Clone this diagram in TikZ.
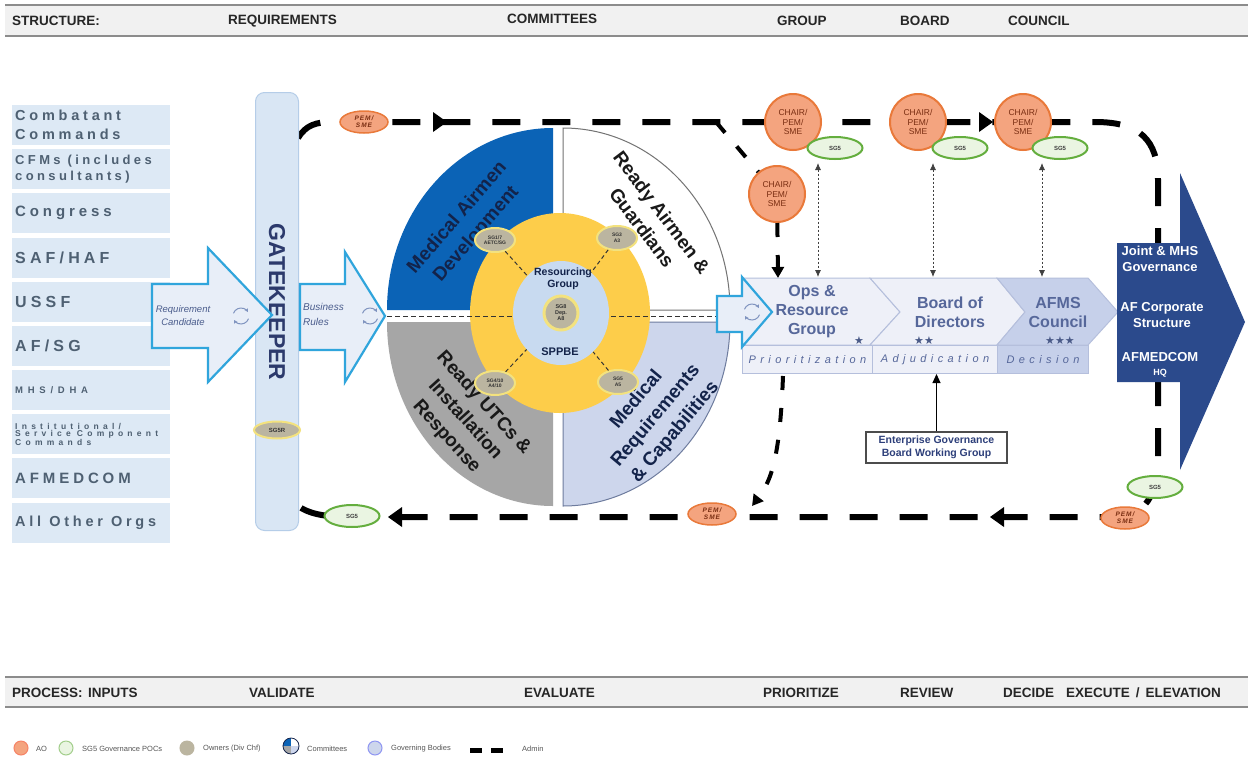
\documentclass[tikz,border=0pt]{standalone}
\usepackage{fontspec}
\setmainfont{Liberation Sans}
\newfontfamily\orgfont[LetterSpace=26]{Liberation Sans}
\newfontfamily\orgwide[LetterSpace=50]{Liberation Sans}
\newfontfamily\lblfont[LetterSpace=40]{Liberation Sans}
\newfontfamily\pemfont[LetterSpace=15]{Liberation Sans}
\newfontfamily\djv{DejaVu Sans}
\usetikzlibrary{arrows.meta,shapes.geometric,calc}
\definecolor{cBarFill}{HTML}{F1F1F1}
\definecolor{cBarLine}{HTML}{8C8C8C}
\definecolor{cOrgFill}{HTML}{DDE9F5}
\definecolor{cOrgText}{HTML}{4E6072}
\definecolor{cGkFill}{HTML}{D9E6F4}
\definecolor{cGkEdge}{HTML}{B5CDE8}
\definecolor{cGkText}{HTML}{2C3A6C}
\definecolor{cArrFill}{HTML}{E8EEF8}
\definecolor{cArrEdge}{HTML}{30A5DC}
\definecolor{cArrText}{HTML}{4A5C8C}
\definecolor{cCyc}{HTML}{7F93BF}
\definecolor{cQBlue}{HTML}{0B63B6}
\definecolor{cQGray}{HTML}{A6A6A6}
\definecolor{cQLight}{HTML}{CDD6EC}
\definecolor{cQEdge}{HTML}{6E7C9E}
\definecolor{cNavy}{HTML}{13234A}
\definecolor{cRing}{HTML}{FDCD4A}
\definecolor{cInner}{HTML}{C8DAF0}
\definecolor{cKhaki}{HTML}{BBB5A0}
\definecolor{cGlow}{HTML}{F3E27E}
\definecolor{cAoFill}{HTML}{F4A47F}
\definecolor{cAoEdge}{HTML}{E9793A}
\definecolor{cAoText}{HTML}{7A2E12}
\definecolor{cSgFill}{HTML}{EAF5E2}
\definecolor{cSgEdge}{HTML}{64AE3E}
\definecolor{cChFill}{HTML}{EEF0F8}
\definecolor{cChEdge}{HTML}{B5BFDC}
\definecolor{cChDark}{HTML}{C6D0EA}
\definecolor{cChText}{HTML}{56679A}
\definecolor{cStar}{HTML}{4A5A88}
\definecolor{cBigNavy}{HTML}{2B4A8C}
\definecolor{cEgText}{HTML}{2D3F7A}
\definecolor{cLegText}{HTML}{555555}
\begin{document}
\begin{tikzpicture}[x=1pt,y=-1pt,
  hdr/.style={font=\bfseries\fontsize{13.5}{14}\selectfont, text=black!85, anchor=west, inner sep=0pt},
  orgbox/.style={fill=cOrgFill, anchor=north west, minimum height=40pt, text width=152pt, inner xsep=3pt, inner ysep=0pt, align=left, text=cOrgText},
  gate/.style={draw=cGkEdge, fill=cGkFill, line width=1pt, rounded corners=9pt},
  bigarrow/.style={draw=cArrEdge, fill=cArrFill, line width=2.2pt, line join=miter},
  arrtxt/.style={font=\itshape\fontsize{9.5}{13}\selectfont, text=cArrText, inner sep=0pt},
  cyc/.style={draw=cCyc, line width=1pt, -{Stealth[length=3.5pt,width=4pt]}},
  admin/.style={line width=6pt, dash pattern=on 28pt off 22pt},
  adminb/.style={line width=4pt, dash pattern=on 14pt off 18pt},
  ao/.style={ellipse, fill=cAoFill, draw=cAoEdge, line width=1.5pt, text=cAoText, inner sep=0pt, align=center},
  chair/.style={ao, minimum size=56pt, line width=2pt, font=\fontsize{8.5}{9.5}\selectfont},
  pem/.style={ao, minimum width=48pt, minimum height=22pt, font=\pemfont\bfseries\itshape\fontsize{6.5}{7}\selectfont},
  sg/.style={ellipse, fill=cSgFill, draw=cSgEdge, line width=2pt, minimum width=55pt, minimum height=22pt, inner sep=0pt, font=\bfseries\fontsize{6}{6}\selectfont, text=black!75},
  owner/.style={ellipse, fill=cKhaki, draw=cGlow, line width=2pt, inner sep=0pt, minimum width=40pt, minimum height=24pt, font=\bfseries\fontsize{5}{5.5}\selectfont, align=center, text=black!80},
  quadtxt/.style={font=\bfseries\fontsize{19}{25}\selectfont, align=center, inner sep=0pt},
  chev/.style={fill=cChFill, draw=cChEdge, line width=1pt},
  chevd/.style={fill=cChDark, draw=cChEdge, line width=1pt},
  chtxt/.style={font=\bfseries\fontsize{16}{19}\selectfont, text=cChText, align=center, inner sep=0pt},
  lblbox/.style={chev, anchor=north west, minimum height=28pt, inner sep=0pt, font=\lblfont\itshape\fontsize{11}{12}\selectfont, text=cChText},
  star/.style={font=\djv\fontsize{11}{11}\selectfont, text=cStar, inner sep=0pt},
  dotarr/.style={line width=0.8pt, draw=black!75, dash pattern=on 2.5pt off 1.5pt, {Latex[length=7pt,width=6pt]}-{Latex[length=7pt,width=6pt]}},
  egbox/.style={draw=black!70, line width=1.2pt, fill=white, font=\bfseries\fontsize{10.5}{13}\selectfont, text=cEgText, align=center, minimum width=141pt, minimum height=31pt, inner sep=0pt},
  navytxt/.style={font=\bfseries\fontsize{13}{16}\selectfont, text=white, align=center, inner sep=0pt},
  legtxt/.style={font=\fontsize{7.5}{8}\selectfont, text=cLegText, anchor=west, inner sep=0pt},
  legdot/.style={circle, minimum size=14pt, inner sep=0pt, line width=1pt},
  raddash/.style={black!80, line width=1pt, dash pattern=on 4pt off 3pt}
]
\useasboundingbox (0,0) rectangle (1248,761);
\fill[white] (0,0) rectangle (1248,761);

% ---------------- header bars
\fill[cBarFill] (5,5) rectangle (1248,36);
\draw[cBarLine, line width=2pt] (5,5) -- (1248,5);
\draw[cBarLine, line width=2pt] (5,36) -- (1248,36);
\node[hdr] (hStruct) at (12,21) {STRUCTURE:};
\node[hdr] (hReq) at (228,21) {REQUIREMENTS};
\node[hdr] (hCom) at (507,19) {COMMITTEES};
\node[hdr] (hGrp) at (777,21) {GROUP};
\node[hdr] (hBrd) at (900,21) {BOARD};
\node[hdr] (hCou) at (1008,21) {COUNCIL};

\fill[cBarFill] (5,677) rectangle (1248,707);
\draw[cBarLine, line width=2pt] (5,677) -- (1248,677);
\draw[cBarLine, line width=2pt] (5,707) -- (1248,707);
\node[hdr] (pProc) at (12,693) {PROCESS:};
\node[hdr] (pIn) at (88,693) {INPUTS};
\node[hdr] (pVal) at (249,693) {VALIDATE};
\node[hdr] (pEva) at (524,693) {EVALUATE};
\node[hdr] (pPri) at (763,693) {PRIORITIZE};
\node[hdr] (pRev) at (900,693) {REVIEW};
\node[hdr] (pDec) at (1003,693) {DECIDE};
\node[hdr] (pExe) at (1066,693) {EXECUTE\hspace{6pt}/\hspace{6pt}ELEVATION};

% ---------------- legend
\node[legdot, fill=cAoFill, draw=cAoFill!80!red] (lAo) at (21,748) {};
\node[legtxt] (lAoT) at (36,749) {AO};
\node[legdot, fill=cSgFill, draw=cSgEdge!60] (lSg) at (66,748) {};
\node[legtxt] (lSgT) at (82,749) {SG5 Governance POCs};
\node[legdot, fill=cKhaki, draw=cKhaki] (lOw) at (187,748) {};
\node[legtxt] (lOwT) at (203,749) {Owners (Div Chf)};
\coordinate (lCm) at (291,746);
\fill[cQBlue] (lCm) -- +(-8,0) arc[start angle=180,end angle=270,radius=8] -- cycle;
\fill[white] (lCm) -- +(0,-8) arc[start angle=270,end angle=360,radius=8] -- cycle;
\fill[cQGray] (lCm) -- +(0,8) arc[start angle=90,end angle=180,radius=8] -- cycle;
\fill[cQLight] (lCm) -- +(8,0) arc[start angle=0,end angle=90,radius=8] -- cycle;
\draw[cNavy, line width=0.8pt] (lCm) circle[radius=8];
\node[legtxt] (lCmT) at (307,749) {Committees};
\node[legdot, fill=cQLight, draw=cQLight!70!blue] (lGb) at (375,748) {};
\node[legtxt] (lGbT) at (391,749) {Governing Bodies};
\coordinate (lAd1) at (470,750);
\coordinate (lAd2) at (505,750);
\draw[line width=5pt, dash pattern=on 12pt off 9pt] (lAd1) -- (lAd2);
\node[legtxt] (lAdT) at (522,749) {Admin};

% ---------------- left input boxes
\node[orgbox, font=\orgfont\bfseries\fontsize{14.5}{19}\selectfont] (o1) at (12,105) {Combatant\\Commands};
\node[orgbox, font=\orgfont\bfseries\fontsize{13}{16.5}\selectfont] (o2) at (12,149) {CFMs\kern7pt (includes\\consultants)};
\node[orgbox, font=\orgfont\bfseries\fontsize{15}{17}\selectfont] (o3) at (12,193) {Congress};
\node[orgbox, font=\orgfont\bfseries\fontsize{16}{18}\selectfont] (o4) at (12,238) {SAF/HAF};
\node[orgbox, font=\orgfont\bfseries\fontsize{16}{18}\selectfont] (o5) at (12,282) {USSF};
\node[orgbox, font=\orgfont\bfseries\fontsize{16}{18}\selectfont] (o6) at (12,326) {AF/SG};
\node[orgbox, font=\orgwide\bfseries\fontsize{9.5}{10}\selectfont] (o7) at (12,370) {MHS/DHA};
\node[orgbox, font=\orgwide\bfseries\fontsize{8.5}{7.2}\selectfont] (o8) at (12,414) {Institutional/\\Service\kern6pt Component\\Commands};
\node[orgbox, font=\orgfont\bfseries\fontsize{15}{17}\selectfont] (o9) at (12,458) {AFMEDCOM};
\node[orgbox, font=\orgfont\bfseries\fontsize{14.5}{17}\selectfont] (o10) at (12,503) {All\kern8pt Other\kern8pt Orgs};

% ---------------- admin loop (under everything)
\coordinate (aStart) at (298,138);
\coordinate (aEnd) at (298,506);
\draw[admin] (aStart) .. controls (306,125) and (316,122) .. (332,122) -- (1095,122) .. controls (1140,122) and (1158,140) .. (1158,180) -- (1158,455) .. controls (1158,495) and (1146,517) .. (1112,517) -- (350,517) .. controls (322,517) and (308,513) .. (aEnd);
\fill (447,122) -- (433,112) -- (433,132) -- cycle;
\fill (993,122) -- (979,112) -- (979,132) -- cycle;
\fill (388,517) -- (402,507) -- (402,527) -- cycle;
\fill (990,517) -- (1004,507) -- (1004,527) -- cycle;

% ---------------- gatekeeper
\node[gate, minimum width=43pt, minimum height=438pt, anchor=north west] (gk) at (255,92) {};
\node[rotate=-90, font=\bfseries\fontsize{23}{23}\selectfont, text=cGkText] (gkT) at (277,302) {GATEKEEPER};
\node[owner, minimum width=46pt, minimum height=17pt, font=\bfseries\fontsize{6}{6}\selectfont] (sg5r) at (277,430) {SG5R};

% ---------------- input arrows
\draw[bigarrow] (152,284) -- (208,284) -- (208,248) -- (272,315) -- (208,382) -- (208,348) -- (152,348) -- cycle;
\node[arrtxt, align=center] (reqT) at (183,316) {Requirement\\Candidate};
\coordinate (cy1) at (241,316);
\draw[cyc] ($(cy1)+(200:8)$) arc[start angle=200,end angle=330,radius=8];
\draw[cyc] ($(cy1)+(20:8)$) arc[start angle=20,end angle=150,radius=8];

\draw[bigarrow] (300,284) -- (345,284) -- (345,252) -- (385,316) -- (345,382) -- (345,350) -- (300,350) -- cycle;
\node[arrtxt, align=left, anchor=west, font=\itshape\fontsize{10}{15}\selectfont] (busT) at (303,314) {Business\\Rules};
\coordinate (cy2) at (370,316);
\draw[cyc] ($(cy2)+(200:8)$) arc[start angle=200,end angle=330,radius=8];
\draw[cyc] ($(cy2)+(20:8)$) arc[start angle=20,end angle=150,radius=8];

% ---------------- committees wheel
\fill[cQBlue] (553,310) -- (387,310) arc[start angle=180,end angle=270,x radius=166,y radius=182] -- cycle;
\draw[fill=white, draw=black!55, line width=1pt] (563,310) -- (563,128) arc[start angle=270,end angle=360,x radius=167,y radius=182] -- cycle;
\fill[cQGray] (553,322) -- (553,506) arc[start angle=90,end angle=180,x radius=166,y radius=184] -- cycle;
\draw[fill=cQLight, draw=cQEdge, line width=1pt] (563,322) -- (730,322) arc[start angle=0,end angle=90,x radius=167,y radius=184] -- cycle;

\node[quadtxt, rotate=49, text=cNavy] (qMad) at (467,226) {Medical Airmen\\Development};
\node[quadtxt, rotate=-53, text=black!90] (qRag) at (652,220) {Ready Airmen \&\\Guardians};
\node[quadtxt, rotate=-48, text=black!90] (qRut) at (465,420) {Ready UTCs \&\\Installation\\Response};
\node[quadtxt, rotate=50, text=cNavy] (qMrc) at (656,416) {Medical\\Requirements\\\& Capabilities};

\node[ellipse, fill=cRing, minimum width=180pt, minimum height=200pt, inner sep=0pt] (ring) at (560,313) {};
\coordinate (hL) at (387,316);
\coordinate (hR) at (716,316);
\draw[raddash, dash pattern=on 5pt off 3pt] (hL) -- (hR);
\node[ellipse, fill=cInner, minimum width=96pt, minimum height=104pt, inner sep=0pt] (rg) at (561,313) {};
\node[font=\bfseries\fontsize{10.5}{12}\selectfont, text=cNavy, align=center, inner sep=0pt] (rgT) at (563,279) {Resourcing\\Group};
\node[font=\bfseries\fontsize{11}{12}\selectfont, text=cNavy, inner sep=0pt] (sppbe) at (560,352) {SPPBE};
\node[circle, fill=cKhaki, draw=cGlow, line width=3pt, minimum size=34pt, inner sep=0pt, font=\bfseries\fontsize{5.5}{6}\selectfont, align=center, text=black!80] (sg8) at (561,313) {SG8\\Dep.\\A8};

\node[owner] (ow1) at (495,240) {SG1/7\\AETC/SG};
\node[owner] (ow2) at (495,383) {SG4/10\\A4/10};
\node[owner] (ow3) at (617,238) {SG3\\A3};
\node[owner] (ow4) at (618,382) {SG5\\A5};
\draw[raddash] (ow1) -- (rg);
\draw[raddash] (ow2) -- (rg);
\draw[raddash] (ow3) -- (rg);
\draw[raddash] (ow4) -- (rg);

% ---------------- group / board / council
\draw[chev] (742,278) -- (870,278) -- (900,312) -- (870,345) -- (742,345) -- cycle;
\draw[chev] (870,278) -- (997,278) -- (1025,312) -- (997,345) -- (870,345) -- (900,312) -- cycle;
\draw[chevd] (997,278) -- (1088,278) -- (1118,312) -- (1088,345) -- (997,345) -- (1025,312) -- cycle;
\node[lblbox, minimum width=130pt] (lblP) at (742,345) {Prioritization};
\node[lblbox, minimum width=125pt] (lblA) at (872,345) {Adjudication};
\node[lblbox, chevd, minimum width=91pt] (lblD) at (997,345) {Decision};
\node[chtxt] (opsT) at (812,312) {Ops \&\\Resource\\Group};
\node[chtxt] (bodT) at (950,312) {Board of\\Directors};
\node[chtxt] (afmsT) at (1058,312) {AFMS\\Council};
\node[star] (st1) at (859,341) {★};
\node[star] (st2) at (924,341) {★★};
\node[star] (st3) at (1060,341) {★★★};

\draw[bigarrow] (717,296) -- (742,296) -- (742,277) -- (772,312) -- (742,347) -- (742,332) -- (717,332) -- cycle;
\coordinate (cy3) at (752,312);
\draw[cyc] ($(cy3)+(200:8)$) arc[start angle=200,end angle=330,radius=8];
\draw[cyc] ($(cy3)+(20:8)$) arc[start angle=20,end angle=150,radius=8];

\node[egbox] (eg) at (936.5,447.5) {Enterprise Governance\\Board Working Group};
\draw[line width=1pt, -{Triangle[length=9pt,width=8pt]}] (eg.north) -- (eg.north |- lblA.south);

% ---------------- AO / SG5 nodes on the loop
\node[pem] (pem1) at (364,122) {PEM/\\SME};
\node[chair] (chair1) at (793,122) {CHAIR/\\PEM/\\SME};
\node[chair] (chair2) at (777,194) {CHAIR/\\PEM/\\SME};
\node[chair] (chair3) at (918,122) {CHAIR/\\PEM/\\SME};
\node[chair] (chair4) at (1023,122) {CHAIR/\\PEM/\\SME};
\node[sg] (sgA) at (835,148) {SG5};
\node[sg] (sgB) at (960,148) {SG5};
\node[sg] (sgC) at (1060,148) {SG5};

\coordinate (brA) at (716,122);
\coordinate (brB) at (778,278);
\draw[adminb] (brA) -- (chair2);
\draw[adminb, -{Triangle[length=11pt,width=12pt]}] (chair2) -- (brB);

\coordinate (d1a) at (818,163); \coordinate (d1b) at (818,277);
\coordinate (d2a) at (933,163); \coordinate (d2b) at (933,277);
\coordinate (d3a) at (1042,163); \coordinate (d3b) at (1042,277);
\draw[dotarr] (d1a) -- (d1b);
\draw[dotarr] (d2a) -- (d2b);
\draw[dotarr] (d3a) -- (d3b);

\coordinate (opsB) at (783,376);
\coordinate (pemArr) at (752,506);
\draw[adminb, -{Triangle[length=11pt,width=12pt]}] (opsB) .. controls (780,455) and (772,480) .. (pemArr);

\node[pem] (pemM) at (712,514) {PEM/\\SME};
\node[pem] (pemR) at (1125,518) {PEM/\\SME};
\node[sg] (sgR) at (1155,487) {SG5};
\node[sg] (sgL) at (352,516) {SG5};

% ---------------- execute / elevation arrow
\fill[cBigNavy] (1117,243) -- (1180,243) -- (1180,173) -- (1245,322) -- (1180,470) -- (1180,382) -- (1117,382) -- cycle;
\node[navytxt] (exJ) at (1160,259) {Joint \& MHS\\Governance};
\node[navytxt] (exA) at (1162,315) {AF Corporate\\Structure};
\node[navytxt] (exM) at (1160,357) {AFMEDCOM};
\node[navytxt, font=\bfseries\fontsize{9}{10}\selectfont] (exH) at (1160,373) {HQ};
\end{tikzpicture}
\end{document}
